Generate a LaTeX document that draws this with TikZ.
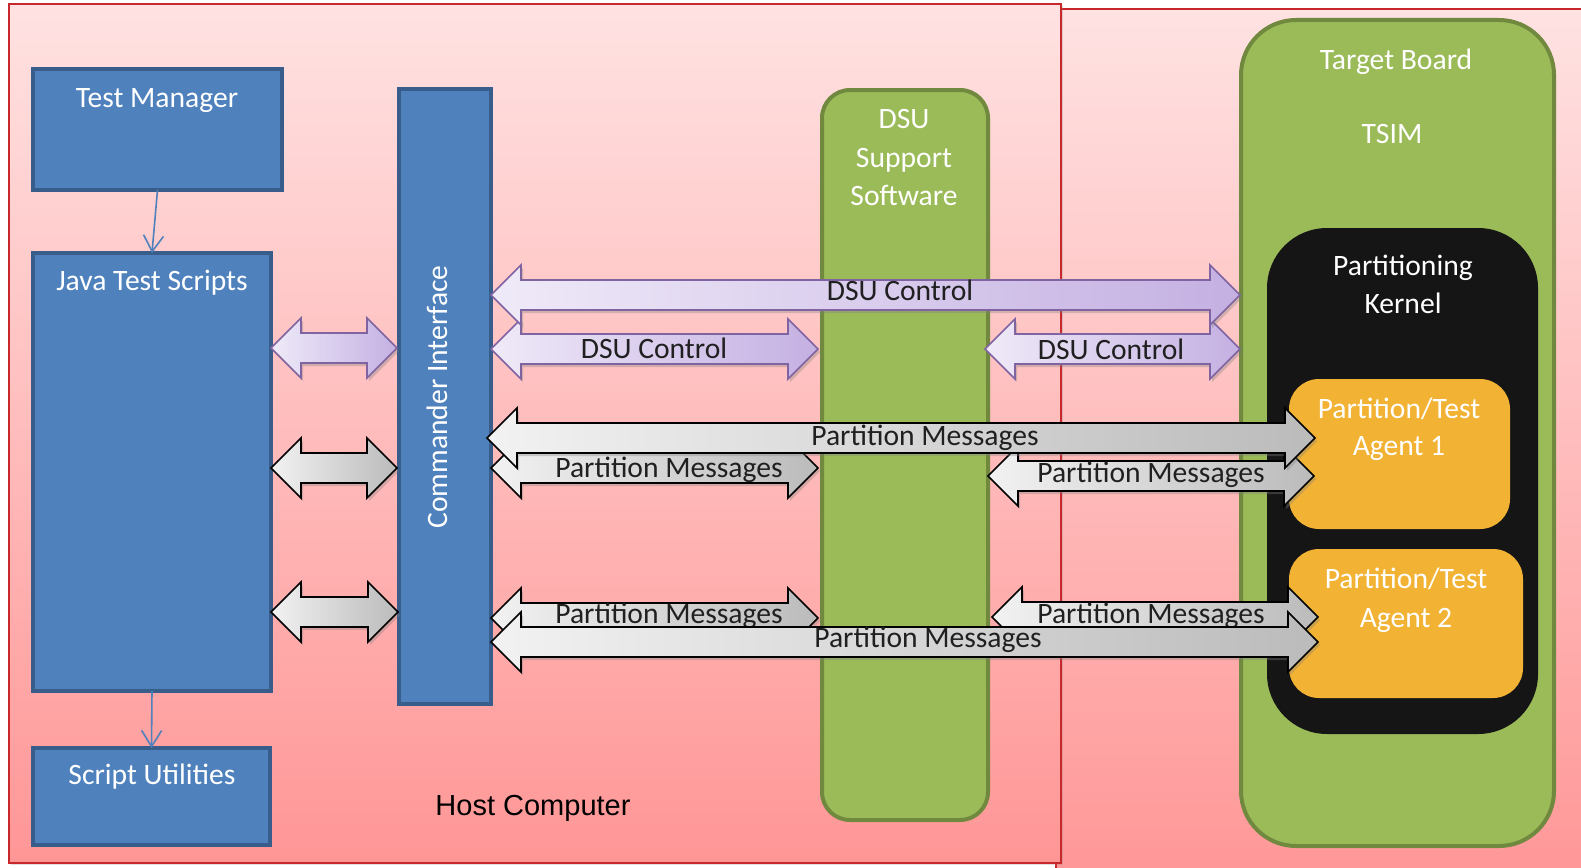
\documentclass[tikz,border=0pt]{standalone}
\usepackage{fontspec}
\setmainfont{Carlito}
\newfontfamily\arialfont{Liberation Sans}
\usetikzlibrary{shadows,arrows.meta}
\definecolor{pinktop}{HTML}{FFE2E2}
\definecolor{pinkbot}{HTML}{FF9696}
\definecolor{hostred}{HTML}{C8282C}
\definecolor{bluefill}{HTML}{4F81BD}
\definecolor{blueline}{HTML}{385D8A}
\definecolor{greenfill}{HTML}{9BBB59}
\definecolor{greenline}{HTML}{71893F}
\definecolor{kernelblack}{HTML}{151515}
\definecolor{agentorange}{HTML}{F2B233}
\definecolor{purpleline}{HTML}{8064A2}
\definecolor{purpleL}{HTML}{EFEAF8}
\definecolor{purpleR}{HTML}{C4B0E2}
\definecolor{grayL}{HTML}{F2F2F2}
\definecolor{grayR}{HTML}{BBBBBB}
\definecolor{labeldark}{HTML}{202020}
\newcommand\dblarrow[4]{%
  \path[#1] (#2,#4) -- ({#2+30},{#4-30}) -- ({#2+30},{#4-15}) -- ({#3-30},{#4-15})
    -- ({#3-30},{#4-30}) -- (#3,#4) -- ({#3-30},{#4+30}) -- ({#3-30},{#4+15})
    -- ({#2+30},{#4+15}) -- ({#2+30},{#4+30}) -- cycle;}
\tikzset{
  bluebox/.style={draw=blueline, fill=bluefill, line width=4pt, rectangle, anchor=north west},
  greenbox/.style={draw=greenline, fill=greenfill, line width=4pt, rectangle, anchor=north west},
  wlbl/.style={text=white, font=\fontsize{29.6}{35}\selectfont, anchor=base},
  alabel/.style={text=labeldark, font=\fontsize{29.6}{35}\selectfont, anchor=base},
  parrow/.style={draw=purpleline, line width=1.6pt, left color=purpleL, right color=purpleR,
    drop shadow={opacity=0.35, shadow xshift=2pt, shadow yshift=-3pt}},
  garrow/.style={draw=black, line width=1.6pt, left color=grayL, right color=grayR,
    drop shadow={opacity=0.35, shadow xshift=2pt, shadow yshift=-3pt}},
  bluecon/.style={draw=bluefill, line width=1.6pt, -{Straight Barb[length=16pt,width=20pt]}},
}
\begin{document}
\begin{tikzpicture}[x=1pt,y=-1pt, every node/.style={inner sep=0pt, outer sep=0pt}]
\useasboundingbox (0,0) rectangle (1581,867);
\clip (0,0) rectangle (1581,867);
% backgrounds
\path[draw=hostred, line width=2pt, top color=pinktop, bottom color=pinkbot] (1056,9) rectangle (1620,890);
\path[draw=hostred, line width=2pt, top color=pinktop, bottom color=pinkbot,
  drop shadow={opacity=0.25, shadow xshift=2pt, shadow yshift=-2pt}] (9,4) rectangle (1061,863);
\node[anchor=base, font=\arialfont\fontsize{29}{34}\selectfont] (hc) at (533,815) {Host Computer};
% blue boxes
\node[bluebox, minimum width=249pt, minimum height=121pt] (tm) at (33,69) {};
\node[wlbl] (tmt) at (157,107) {Test Manager};
\node[bluebox, minimum width=238pt, minimum height=438pt] (jts) at (33,253) {};
\node[wlbl] (jtst) at (152,290) {Java Test Scripts};
\node[bluebox, minimum width=237pt, minimum height=97pt] (su) at (33,748) {};
\node[wlbl] (sut) at (152,784) {Script Utilities};
\node[bluebox, minimum width=92pt, minimum height=615pt] (ci) at (399,89) {};
\node[text=white, font=\fontsize{29.6}{35}\selectfont, rotate=90, anchor=center] (cit) at (437,397) {Commander Interface};
\draw[bluecon] (tm.south) -- (jts.north);
\draw[bluecon] (jts.south) -- (su.north);
% DSU support software
\node[greenbox, rounded corners=28pt, minimum width=166pt, minimum height=730pt] (dsu) at (822,90) {};
\node[wlbl] (dsu1) at (904,128) {DSU};
\node[wlbl] (dsu2) at (904,167) {Support};
\node[wlbl] (dsu3) at (904,205) {Software};
% target board
\node[greenbox, rounded corners=55pt, minimum width=313pt, minimum height=826pt] (tb) at (1241,20) {};
\node[wlbl] (tbt) at (1396,70) {Target Board};
\node[wlbl] (tsim) at (1392,143) {TSIM};
\node[fill=kernelblack, rounded corners=60pt, minimum width=271pt, minimum height=506pt, anchor=north west] (pk) at (1267,228) {};
\node[wlbl] (pk1) at (1403,275) {Partitioning};
\node[wlbl] (pk2) at (1403,313) {Kernel};
\node[fill=agentorange, rounded corners=30pt, minimum width=221pt, minimum height=150pt, anchor=north west] (ag1) at (1289,379) {};
\node[wlbl] (ag1a) at (1399,418) {Partition/Test};
\node[wlbl] (ag1b) at (1399,455) {Agent 1};
\node[fill=agentorange, rounded corners=30pt, minimum width=234pt, minimum height=149pt, anchor=north west] (ag2) at (1289,549) {};
\node[wlbl] (ag2a) at (1406,588) {Partition/Test};
\node[wlbl] (ag2b) at (1406,627) {Agent 2};
% left small arrows
\dblarrow{parrow}{271}{397}{348}
\dblarrow{garrow}{271}{397}{468}
\dblarrow{garrow}{271}{398}{612}
% DSU control arrows
\dblarrow{parrow}{491}{818}{349}
\node[alabel] (dc1) at (654,358) {DSU Control};
\dblarrow{parrow}{985}{1240}{349}
\node[alabel] (dc2) at (1111,359) {DSU Control};
\dblarrow{parrow}{491}{1240}{295}
\node[alabel] (dc0) at (900,300) {DSU Control};
% partition messages upper group
\dblarrow{garrow}{491}{818}{468}
\node[alabel] (pm1) at (669,477) {Partition Messages};
\dblarrow{garrow}{988}{1314}{476}
\node[alabel] (pm2) at (1151,482) {Partition Messages};
\dblarrow{garrow}{487}{1315}{438}
\node[alabel] (pm0) at (925,445) {Partition Messages};
% partition messages lower group
\dblarrow{garrow}{491}{818}{618}
\node[alabel] (pm3) at (669,623) {Partition Messages};
\dblarrow{garrow}{992}{1318}{617}
\node[alabel] (pm4) at (1151,623) {Partition Messages};
\dblarrow{garrow}{491}{1318}{642}
\node[alabel] (pm5) at (928,647) {Partition Messages};
\end{tikzpicture}
\end{document}
